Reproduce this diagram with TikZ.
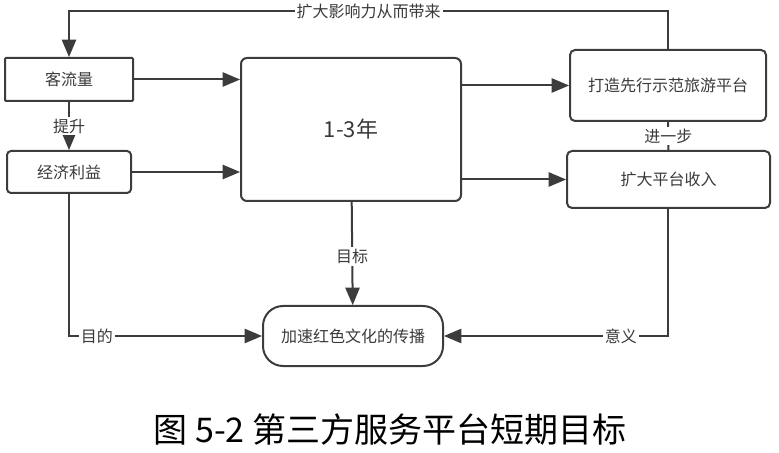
\documentclass[tikz,border=0pt]{standalone}
\usepackage{fontspec}
\setmainfont{Noto Sans CJK SC}
\usepackage{tikz}
\usetikzlibrary{arrows}
\usetikzlibrary{positioning,calc}
\definecolor{linegray}{HTML}{3C3C3C}
\definecolor{textgray}{HTML}{3A3A3A}

\begin{document}
\begin{tikzpicture}[x=0.5pt,y=-0.5pt,>={triangle 45[scale=1.3]},
                      box/.style={draw=linegray,line width=1pt,text=textgray,
                        font=\fontsize{8}{9}\selectfont,inner sep=0pt},
                      tag/.style={fill=white,text=textgray,inner sep=1pt,
                        font=\fontsize{8}{9}\selectfont},
                      link/.style={draw=linegray,line width=1pt}]

                  \useasboundingbox (0,0) rectangle (779,453);

                  % Left column
                  \node (flow) [box,minimum width=64pt,minimum height=21.5pt,
                    rounded corners=0.5pt] at (69,79.5) {客流量};
                  \node (gain) [box,minimum width=62pt,minimum height=21pt,
                    rounded corners=2pt] at (69,172) {经济利益};

                  % Middle
                  \node (term) [box,minimum width=110pt,minimum height=71.5pt,
                    rounded corners=3pt,font=\fontsize{11}{13}\selectfont] at (351,129.5) {1-3年};
                  \node (spread) [box,minimum width=90pt,minimum height=30pt,
                    rounded corners=10pt] at (353,336) {加速红色文化的传播};

                  % Right column
                  \node (model) [box,minimum width=98pt,minimum height=35.5pt,
                    rounded corners=2.5pt] at (668,85.5) {打造先行示范旅游平台};
                  \node (income) [box,minimum width=101.5pt,minimum height=28.5pt,
                    rounded corners=2.5pt] at (668.5,179.5) {扩大平台收入};

                  \node (caption) [text=black,font=\fontsize{17}{20}\selectfont]
                    at (390,430) {图 5-2 第三方服务平台短期目标};

                  \path [link,->] (flow) -- (flow -| term.west);
                  \path [link,->] (gain) -- (gain -| term.west);
                  \path [link,->] (term.east |- model) -- (model);
                  \path [link,->] (term.east |- income) -- (income.west |- income);
                  \path [link,->] (flow) -- node [tag] {提升} (gain);
                  \path [link] (model) -- node [tag] {进一步} (income);
                  \path [link,->] (term) -- node [tag,pos=0.53] {目标} (spread);
                  \path [link,->] (model.north) -- ++(0,-38)
                    -| node [tag,pos=0.25] {扩大影响力从而带来} (flow.north);
                  \path [link,->] (gain.south) |- node [tag,pos=0.572] {目的} (spread.west);
                  \path [link,->] (income.south -| model) |- node [tag,pos=0.605] {意义} (spread.east);
                \end{tikzpicture}
\end{document}
